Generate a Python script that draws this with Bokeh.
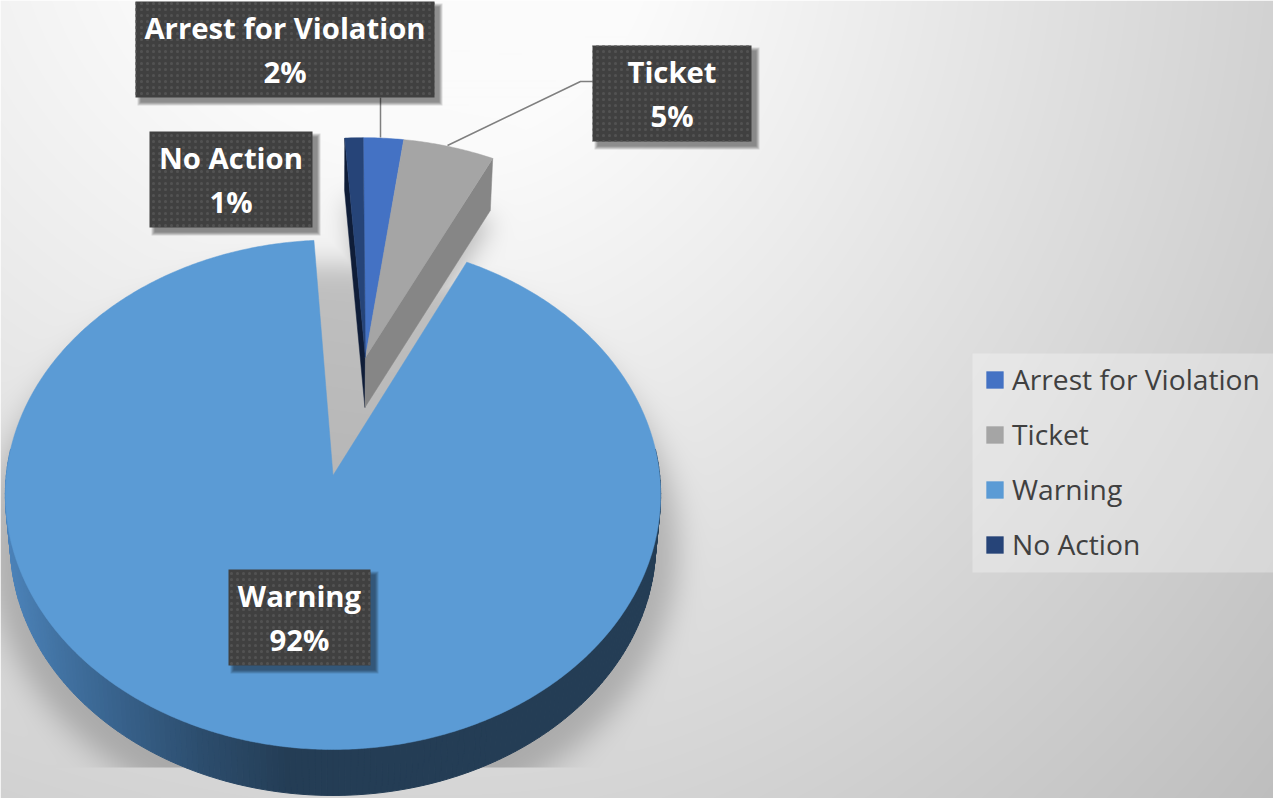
import numpy as np
from bokeh.plotting import figure
from bokeh.embed import file_html
from bokeh.resources import INLINE
from bokeh.models import Range1d, Legend, LegendItem
from bokeh.core.properties import value

# ---- data ----
categories = ["Arrest for Violation", "Ticket", "Warning", "No Action"]
shares = [2.2, 5.0, 91.8, 1.0]
colors = ["#4472C4", "#A5A5A5", "#5B9BD5", "#264478"]
exploded = [True, True, False, True]

# ---- layout (reference pixels) ----
W, H = 1273, 798
CX, CY, RX, RY, B = 332.5, 475.0, 326.7, 253.3, 0.0755
BCY, BRX, BRY = 523.8, 321.8, 250.7
EXPL = (0.1028, 0.483)
SHADOW_CUT = 767

def Y(py):
    return H - np.asarray(py, dtype=float)

def proj(u, v, floor=False):
    u, v = np.asarray(u, float), np.asarray(v, float)
    w = 1 + B * v
    if floor:
        return CX + BRX * u / w, BCY - BRY * v / w
    return CX + RX * u / w, CY - RY * v / w

def wedge_uv(a0, a1, off=(0, 0), n_per_deg=2):
    t = np.radians(np.linspace(a0, a1, max(3, int((a1 - a0) * n_per_deg))))
    return np.r_[off[0], off[0] + np.sin(t)], np.r_[off[1], off[1] + np.cos(t)]

# slice angles, clockwise from 12 o'clock
edges = np.r_[0, np.cumsum(shares)] / sum(shares) * 360
spans = list(zip(edges[:-1], edges[1:]))
for i, (a, b) in enumerate(spans):
    if categories[i] == "No Action":
        spans[i] = (a - 360, b - 360)

# ---- background raster: gradient + soft shadows ----
PAD = 90
yy, xx = np.mgrid[-PAD:H + PAD, -PAD:W + PAD].astype(float)

def region(X, Yp, a0, a1, off):
    a = (X - CX) / BRX
    c = (BCY - Yp) / BRY
    den = 1 - B * c
    u, v = a / den, c / den
    du, dv = u - off[0], v - off[1]
    inside = (du ** 2 + dv ** 2 <= 1) & (den > 0)
    th = np.degrees(np.arctan2(du, dv))
    th2 = np.where(th < a0, th + 360, th)
    return inside & (th2 <= a1)

def blur(m, s):
    fy = np.fft.fftfreq(m.shape[0])[:, None]
    fx = np.fft.rfftfreq(m.shape[1])[None, :]
    g = np.exp(-2 * (np.pi * s) ** 2 * (fx ** 2 + fy ** 2))
    return np.fft.irfft2(np.fft.rfft2(m) * g, s=m.shape)

main_mask = (((xx - 332) / 345) ** 2 + ((yy - 545) / 283) ** 2 <= 1).astype(float)
main_sh = np.where(yy < SHADOW_CUT, blur(main_mask, 14), 0)
clust_mask = region(xx - 2, yy - 10, spans[3][0], spans[1][1], EXPL).astype(float)
clust_sh = blur(clust_mask, 12)

fx_ = np.where(xx > 450, 1.1, 0.8)
d = np.hypot((xx - 450) * fx_, (yy + 100) * 0.95)
base = np.minimum(265 - 0.06 * d, 251)
shade = base * (1 - np.maximum(0.21 * main_sh, 0.24 * clust_sh))
shade = np.clip(shade, 0, 255).astype(np.uint8)
shade = shade[PAD:PAD + H, PAD:PAD + W]
img = np.full(shade.shape, 0, dtype=np.uint32)
view = img.view(np.uint8).reshape(shade.shape + (4,))
view[..., 0] = view[..., 1] = view[..., 2] = shade
view[..., 3] = 255
img = np.flipud(img)

# ---- figure ----
p = figure(width=W, height=H, output_backend="svg", toolbar_location=None,
           x_range=Range1d(0, W), y_range=Range1d(0, H),
           x_axis_type=None, y_axis_type=None, min_border=0, outline_line_color=None)
p.grid.visible = False
p.image_rgba(image=[img], x=0, y=0, dw=W, dh=H)

# Warning outer wall
stops_x = [10, 60, 120, 200, 290, 660]
stops_c = [(76, 131, 186), (66, 115, 163), (56, 98, 140), (45, 78, 110), (36, 61, 85), (36, 61, 85)]
t = np.radians(np.arange(84, 276.01, 1.0))
for t0, t1 in zip(t[:-1], t[1:]):
    us, vs = np.sin([t0, t1]), np.cos([t0, t1])
    xt, yt = proj(us, vs)
    xb, yb = proj(us, vs, floor=True)
    mx = float(np.mean(xb))
    col = tuple(int(np.interp(mx, stops_x, [c[k] for c in stops_c])) for k in range(3))
    hexc = "#%02x%02x%02x" % col
    p.patch(np.r_[xt, xb[::-1]], Y(np.r_[yt, yb[::-1]]), fill_color=hexc, line_color=hexc, line_width=1)

# walls of the pulled-out slices
def radial_wall(angle, color):
    r = np.radians(angle)
    u = np.array([EXPL[0], EXPL[0] + np.sin(r)])
    v = np.array([EXPL[1], EXPL[1] + np.cos(r)])
    xt, yt = proj(u, v)
    xb, yb = proj(u, v, floor=True)
    p.patch(np.r_[xt, xb[::-1]], Y(np.r_[yt, yb[::-1]]), fill_color=color, line_color=color, line_width=0.5)

radial_wall(spans[3][0], "#0F1D38")
radial_wall(spans[1][1], "#868686")

# top surfaces
tops = []
for i, cat in enumerate(categories):
    off = EXPL if exploded[i] else (0, 0)
    u, v = wedge_uv(spans[i][0], spans[i][1], off)
    x, y = proj(u, v)
    tops.append(p.patch(x, Y(y), fill_color=colors[i], line_color=colors[i], line_width=0.5))

# leader lines
p.line([380, 380], Y([97, 137]), line_color="#7F7F7F", line_width=1.5)
p.line([592, 580, 447], Y([81, 81, 145]), line_color="#7F7F7F", line_width=1.5)

# data labels
boxes = {"Arrest for Violation": (135, 434, 1), "Ticket": (592, 751, 45),
         "Warning": (228, 370, 569), "No Action": (149, 312, 131)}
BOX_H = 96
for i, cat in enumerate(categories):
    l, r, tp = boxes[cat]
    for g in range(3, -1, -1):
        p.quad(left=l + 5 - g, right=r + 5 + g, top=Y(tp + 5 - g), bottom=Y(tp + BOX_H + 5 + g),
               fill_color="black", fill_alpha=0.13, line_color=None)
    p.quad(left=l, right=r, top=Y(tp), bottom=Y(tp + BOX_H), fill_color="#404040", line_color=None,
           hatch_pattern="dot", hatch_color="#525252", hatch_scale=6, hatch_weight=1)
    c = (l + r) / 2
    p.text([c], Y([tp + 26.5]), text=[cat], text_color="white", text_align="center",
           text_baseline="middle", text_font=value("Open Sans"), text_font_style="bold",
           text_font_size="29.3px")
    p.text([c], Y([tp + 70]), text=[f"{round(shares[i])}%"], text_color="white", text_align="center",
           text_baseline="middle", text_font=value("Open Sans"), text_font_style="bold",
           text_font_size="29.3px")

# legend
p.quad(left=972, right=W, top=Y(353), bottom=Y(572), fill_color="white", fill_alpha=0.3, line_color=None)
legend = Legend(items=[LegendItem(label=value(c), renderers=[r]) for c, r in zip(categories, tops)],
                location=(984, 235), orientation="vertical", glyph_width=21, glyph_height=21,
                label_standoff=7, spacing=17, margin=0,
                label_text_font="Open Sans", label_text_font_size="28.2px", label_text_color="#404040",
                background_fill_alpha=0, border_line_color=None)
p.add_layout(legend, "center")

open("out.html", "w").write(file_html(p, INLINE))
